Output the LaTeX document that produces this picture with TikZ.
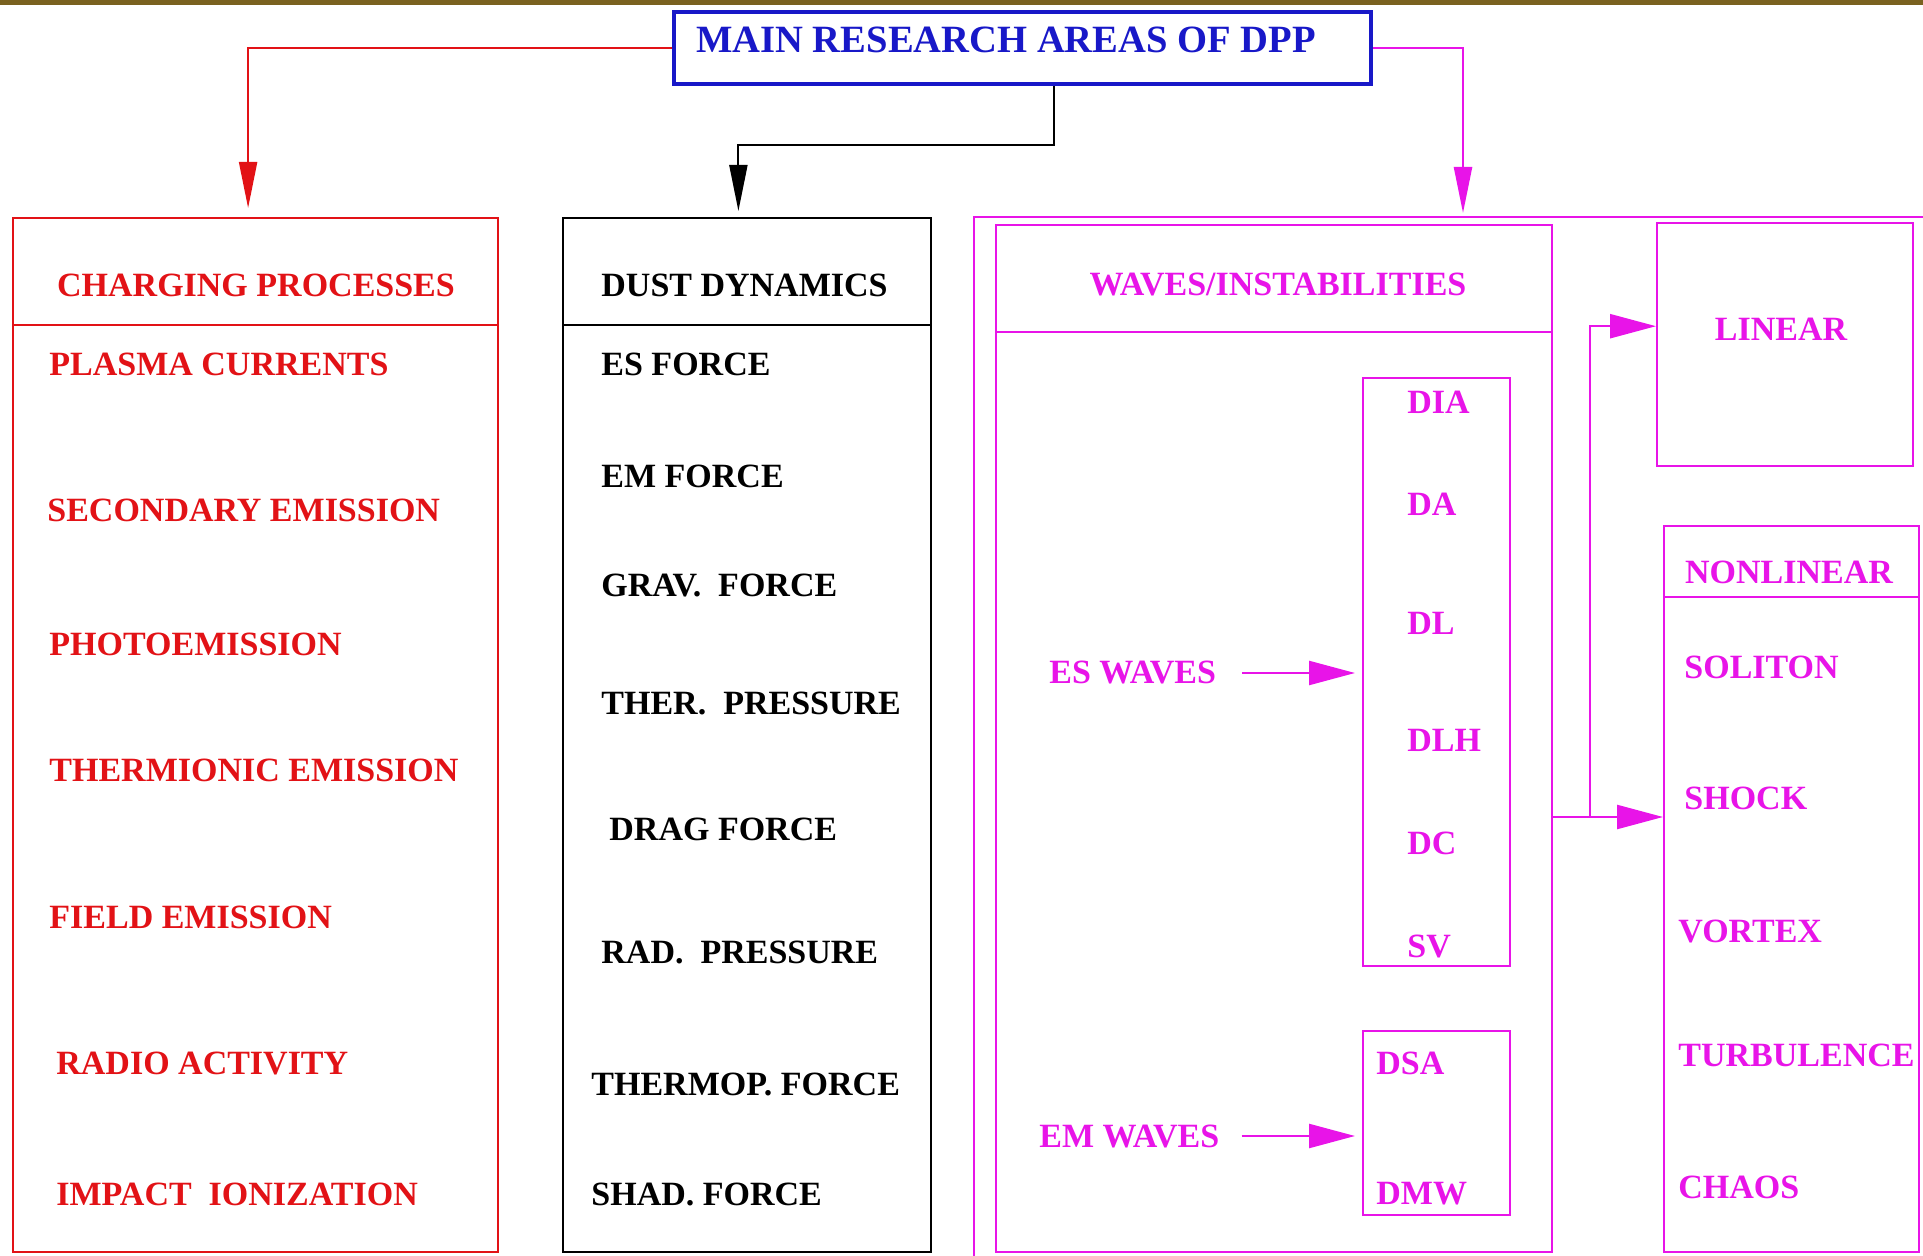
\documentclass[tikz,border=0pt]{standalone}
\usepackage{fontspec}
\setmainfont{Liberation Serif}
\usetikzlibrary{arrows.meta, positioning, calc}
\definecolor{dppblue}{RGB}{24,24,200}
\definecolor{dppred}{RGB}{226,18,22}
\definecolor{dppmag}{RGB}{232,20,232}
\definecolor{dppolive}{RGB}{122,98,32}
\tikzset{
    box/.style={
        draw,
        inner sep=0pt,
        anchor=north west
    },
    item/.style={
        font=\fontsize{17}{20}\selectfont\bfseries,
        inner sep=0pt,
        anchor=west
    },
    head/.style={item, anchor=center},
    vline/.style={-{Triangle[length=23pt,width=9pt]}, line width=1pt},
    hline/.style={-{Triangle[length=23pt,width=12pt]}, line width=1.2pt, dppmag}
}

\begin{document}
\begin{tikzpicture}[x=0.5pt,y=-0.5pt]
\useasboundingbox (0,0) rectangle (1923,1256);
\clip (0,0) rectangle (1923,1256);
\fill[dppolive] (0,0) rectangle (1923,5);

% Title
\node[box, draw=dppblue, line width=2pt, minimum width=348.5pt, minimum height=36pt] (dpp) at (672,10) {};
\node[head, dppblue, font=\fontsize{19.3}{22}\selectfont\bfseries] (title) at (1006,40) {MAIN RESEARCH AREAS OF DPP};

% Charging processes
\node[box, draw=dppred, line width=1pt, minimum width=242.5pt, minimum height=517pt] (charge) at (12,217) {};
\draw[dppred, line width=1pt] (charge.west |- 0,325) -- (charge.east |- 0,325);
\node[head, dppred] (chargehead) at (256,285) {CHARGING PROCESSES};
\foreach \x/\y/\txt [count=\i] in {49/364/PLASMA CURRENTS, 47/510/SECONDARY EMISSION,
    49/644/PHOTOEMISSION, 49/770/THERMIONIC EMISSION, 49/917/FIELD EMISSION,
    56/1063/RADIO ACTIVITY, 56/1194/IMPACT\ \ IONIZATION}
    \node[item, dppred] (chg\i) at (\x,\y) {\txt};

% Dust dynamics
\node[box, line width=1pt, minimum width=184pt, minimum height=517pt] (dyn) at (562,217) {};
\draw[line width=1pt] (dyn.west |- 0,325) -- (dyn.east |- 0,325);
\node[item] (dynhead) at (601,285) {DUST DYNAMICS};
\foreach \x/\y/\txt [count=\i] in {601/364/ES FORCE, 601/476/EM FORCE,
    601/586/GRAV.\ \ FORCE, 601/703/THER.\ \ PRESSURE, 609/829/DRAG FORCE,
    601/952/RAD.\ \ PRESSURE, 591/1084/THERMOP. FORCE, 591/1194/SHAD. FORCE}
    \node[item] (dyn\i) at (\x,\y) {\txt};

% Waves / instabilities
\draw[dppmag, line width=1.2pt] (974,217) rectangle (1960,1290);
\coordinate (wtop) at (1463,217);
\node[box, draw=dppmag, line width=1.2pt, minimum width=278pt, minimum height=513.5pt] (waves) at (995,224) {};
\draw[dppmag, line width=1.2pt] (waves.west |- 0,332) -- (waves.east |- 0,332);
\node[head, dppmag] (waveshead) at (1278,285) {WAVES/INSTABILITIES};
\node[box, draw=dppmag, line width=1.2pt, minimum width=73.5pt, minimum height=294pt] (esbox) at (1362,377) {};
\node[box, draw=dppmag, line width=1.2pt, minimum width=73.5pt, minimum height=92pt] (embox) at (1362,1030) {};
\foreach \y/\txt [count=\i] in {402/DIA, 504/DA, 623/DL, 740/DLH, 843/DC, 946/SV}
    \node[item, dppmag] (es\i) at (1407,\y) {\txt};
\node[item, dppmag] (em1) at (1376,1063) {DSA};
\node[item, dppmag] (em2) at (1376,1194) {DMW};
\node[item, dppmag] (eswaves) at (1049,673) {ES WAVES};
\node[item, dppmag] (emwaves) at (1039,1136) {EM WAVES};

% Linear / nonlinear
\node[box, draw=dppmag, line width=1.2pt, minimum width=128pt, minimum height=121.5pt] (linear) at (1656,222) {};
\node[head, dppmag] (linhead) at (1781,329) {LINEAR};
\node[box, draw=dppmag, line width=1.2pt, minimum width=127.5pt, minimum height=363pt] (nonlin) at (1663,525) {};
\draw[dppmag, line width=1.2pt] (nonlin.west |- 0,597) -- (nonlin.east |- 0,597);
\node[head, dppmag] (nonhead) at (1789,572) {NONLINEAR};
\foreach \x/\y/\txt [count=\i] in {1684/667/SOLITON, 1684/798/SHOCK,
    1678/931/VORTEX, 1678/1055/TURBULENCE, 1678/1187/CHAOS}
    \node[item, dppmag] (non\i) at (\x,\y) {\txt};

% Connectors
\draw[vline, dppred, shorten >=4.5pt] (dpp.west) -| ([xshift=-3.7pt]charge.north);
\draw[vline, shorten >=3pt] ([xshift=15.75pt]dpp.south) -- ++(0,59) -| ([xshift=-4.3pt]dyn.north);
\draw[vline, dppmag, line width=1.2pt, shorten >=2pt] (dpp.east) -| (wtop);
\draw[hline, shorten <=13pt, shorten >=3.5pt] (eswaves.east) -- (eswaves.east -| esbox.west);
\draw[hline, shorten <=11pt, shorten >=3.5pt] (emwaves.east) -- (emwaves.east -| embox.west);
\coordinate (split) at (1590,817);
\draw[dppmag, line width=1.2pt] (split -| waves.east) -- (split);
\draw[hline] (split) -- (split -| nonlin.west);
\draw[hline] (split) |- ([yshift=9.25pt]linear.west);
\end{tikzpicture}
\end{document}
